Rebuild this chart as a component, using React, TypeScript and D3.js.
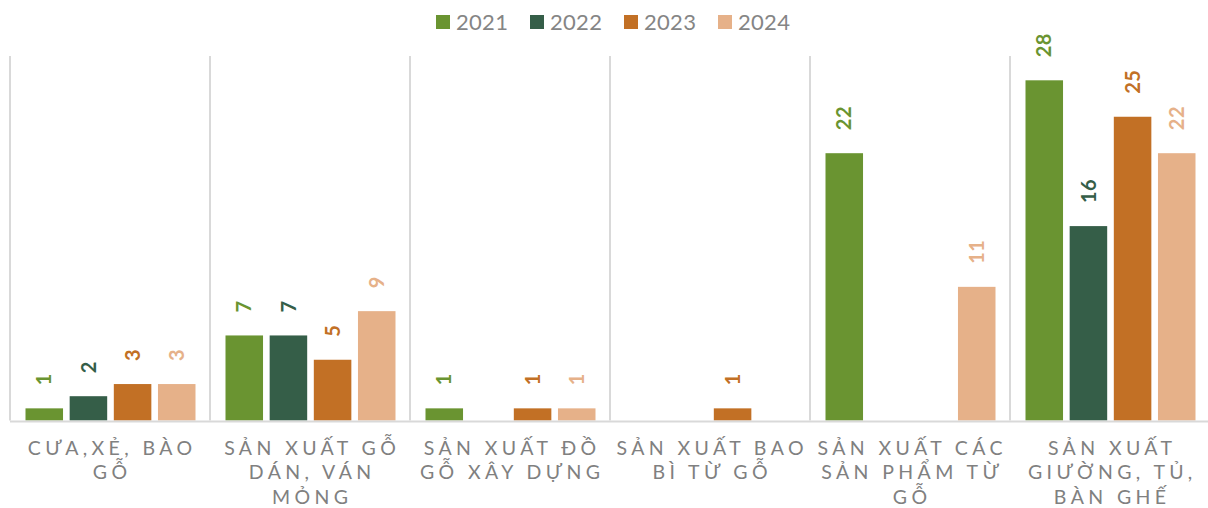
import React from "react";
import * as d3 from "d3";

const categories: string[][] = [
  ["CƯA,XẺ, BÀO", "GỖ"],
  ["SẢN XUẤT GỖ", "DÁN, VÁN", "MỎNG"],
  ["SẢN XUẤT ĐỒ", "GỖ XÂY DỰNG"],
  ["SẢN XUẤT BAO", "BÌ TỪ GỖ"],
  ["SẢN XUẤT CÁC", "SẢN PHẨM TỪ", "GỖ"],
  ["SẢN XUẤT", "GIƯỜNG, TỦ,", "BÀN GHẾ"],
];
const years = ["2021", "2022", "2023", "2024"];
const v2021: (number | null)[] = [1, 7, 1, null, 22, 28];
const v2022: (number | null)[] = [2, 7, null, null, null, 16];
const v2023: (number | null)[] = [3, 5, 1, 1, null, 25];
const v2024: (number | null)[] = [3, 9, 1, null, 11, 22];
const colors = ["#6a9431", "#355e48", "#c27025", "#e6b189"];

const W = 1208;
const H = 508;

export default function App() {
  const series = [v2021, v2022, v2023, v2024];
  const idx = categories.map((_, i) => i);
  const x0 = d3.scaleBand<number>().domain(idx).range([10, 1210]).padding(0);
  const x1 = d3.scaleBand<string>().domain(years).range([15.5, 185.5]).paddingInner(0.15).paddingOuter(0);
  const y = d3.scaleLinear().domain([0, 30]).range([420.5, 56]);

  const legendX = d3.scaleBand<string>().domain(years).range([436, 812]);

  return (
    <svg width={W} height={H} style={{ position: "absolute", left: 0, top: 0, background: "#fff" }}>
      {idx.map((i) => (
        <line key={"s" + i} x1={x0(i)!} x2={x0(i)!} y1={y(30)} y2={y(0)} stroke="#d9d9d9" strokeWidth={2} />
      ))}
      {series.map((s, si) =>
        s.map((v, ci) =>
          v == null ? null : (
            <rect
              key={`b${si}-${ci}`}
              x={x0(ci)! + x1(years[si])!}
              y={y(v)}
              width={x1.bandwidth()}
              height={y(0) - y(v)}
              fill={colors[si]}
            />
          )
        )
      )}
      <line x1={10} x2={W} y1={y(0) + 1} y2={y(0) + 1} stroke="#d9d9d9" strokeWidth={2} />
      {series.map((s, si) =>
        s.map((v, ci) => {
          if (v == null) return null;
          const cx = x0(ci)! + x1(years[si])! + x1.bandwidth() / 2;
          const cy = y(v) - 23;
          return (
            <text
              key={`l${si}-${ci}`}
              transform={`translate(${cx},${cy}) rotate(-90)`}
              dy="0.36em"
              textAnchor="start"
              fill={colors[si]}
              style={{ font: "bold 20px Lato, sans-serif", letterSpacing: "0.5px" }}
            >
              {v}
            </text>
          );
        })
      )}
      {categories.map((lines, ci) => (
        <text
          key={"c" + ci}
          textAnchor="middle"
          fill="#808080"
          style={{ font: "19.5px Lato, sans-serif", letterSpacing: "4.4px" }}
        >
          {lines.map((ln, li) => (
            <tspan key={li} x={x0(ci)! + x0.bandwidth() / 2 + 2.2} y={454.5 + li * 24.5}>
              {ln}
            </tspan>
          ))}
        </text>
      ))}
      {years.map((yr, i) => (
        <g key={"lg" + yr} transform={`translate(${legendX(yr)!},0)`}>
          <rect x={0} y={15} width={14} height={14} fill={colors[i]} />
          <text x={20} y={29.5} fill="#858585" style={{ font: "22px Lato, sans-serif", letterSpacing: "0.3px" }}>
            {yr}
          </text>
        </g>
      ))}
    </svg>
  );
}
